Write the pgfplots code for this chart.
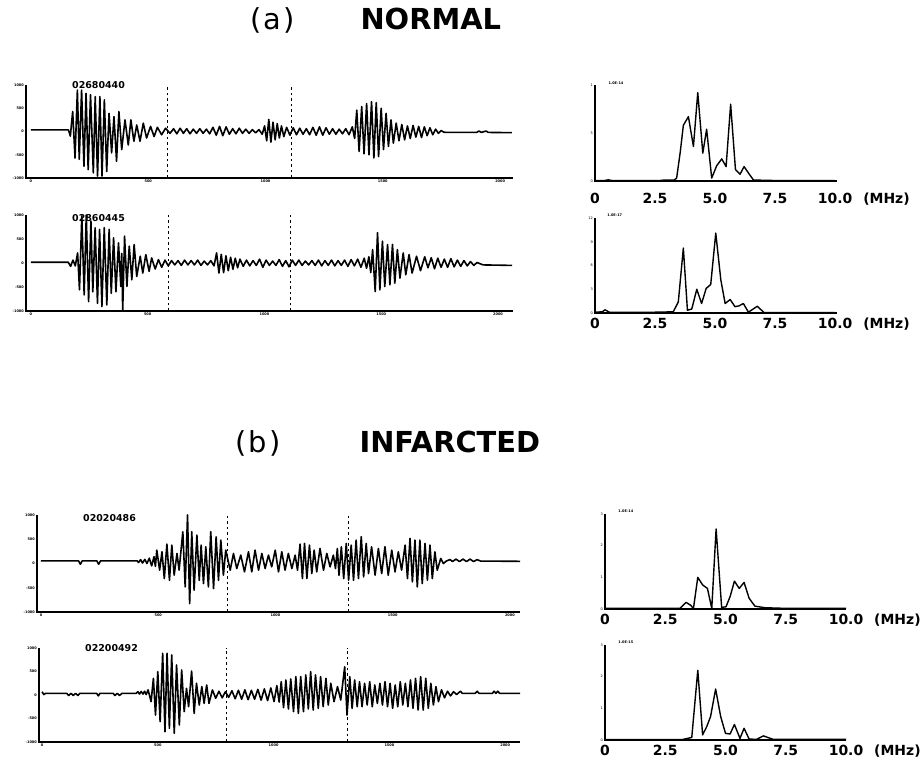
\documentclass[border=0pt]{standalone}
\usepackage{pgfplots}
\pgfplotsset{compat=1.18}
\usepackage{fontspec}
\setmainfont{DejaVu Sans}
\begin{document}
\begin{tikzpicture}
\useasboundingbox (0,0) rectangle (921bp,764bp);
\pgfplotsset{
  base/.style={scale only axis, axis lines=left, axis line style={-, line width=1.2bp},
    tick style={black, line width=0.7bp}, major tick length=2bp, clip=false, anchor=south west},
  wave/.style={base, ymin=-1000, ymax=1000, ytick={-1000,-500,0,500,1000},
    yticklabels={-1000,-500,0,500,1000}, xtick={0,500,1000,1500,2000},
    xticklabels={0,500,1000,1500,2000},
    tick label style={font=\fontsize{3.5}{4}\selectfont\bfseries, inner sep=1bp}},
  wl/.style={black, line width=1.6bp, line join=round},
  dl/.style={black, line width=1bp, dash pattern=on 2.5bp off 3bp},
  spec/.style={base, xmin=0, ymin=0, xtick={0,2.5,5,7.5,10},
    xticklabels={0,2.5,5.0,7.5,{10.0\rlap{\hspace{11bp}(MHz)}}},
    xticklabel style={font=\fontsize{14}{14}\selectfont\bfseries, anchor=north, inner sep=0pt, yshift=-4bp},
    major x tick style={draw=none},
    yticklabel style={font=\fontsize{3.5}{4}\selectfont, inner sep=1bp}},
  sl/.style={black, line width=1.4bp, line join=round}
}
% titles
\node[anchor=base east, font=\fontsize{29}{29}\selectfont] at (298bp,734bp) {(\kern2bp a\kern2bp)};
\node[anchor=base west, font=\fontsize{29}{29}\selectfont\bfseries] at (357bp,734bp) {NORMAL};
\node[anchor=base east, font=\fontsize{29}{29}\selectfont] at (284bp,311bp) {(\kern2bp b\kern2bp)};
\node[anchor=base west, font=\fontsize{29}{29}\selectfont\bfseries] at (356bp,311bp) {INFARCTED};
% record labels
\node[anchor=west, inner sep=0pt, font=\fontsize{9.5}{10}\selectfont\bfseries] at (72bp,679bp) {02680440};
\node[anchor=west, inner sep=0pt, font=\fontsize{9.5}{10}\selectfont\bfseries] at (72bp,546bp) {02860445};
\node[anchor=west, inner sep=0pt, font=\fontsize{9.5}{10}\selectfont\bfseries] at (83bp,246bp) {02020486};
\node[anchor=west, inner sep=0pt, font=\fontsize{9.5}{10}\selectfont\bfseries] at (85bp,116bp) {02200492};

% ---------------- A1
\begin{axis}[wave, at={(26bp,586bp)}, width=487bp, height=93bp, xmin=-21, xmax=2055]
\addplot[wl] coordinates {(0,35) (160,35) (168,-100) (178,430) (188,-570) (198,890) (206,-600) (216,890) (226,-750) (235,820) (244,-820) (254,790) (266,-890) (274,750) (284,-960) (294,750) (303,-960) (313,680) (323,-860) (333,390) (344,-460) (354,320) (365,-640) (375,430) (387,-390) (401,250) (415,-290) (426,250) (439,-210) (451,140) (465,-210) (479,180) (493,-140) (510,110) (525,-110) (539,90) (557,-70) (574,70) (593,-40) (608,60) (622,-50) (636,70) (650,-40) (664,60) (678,-50) (692,50) (706,-40) (720,60) (734,-40) (748,50) (762,-50) (776,90) (790,-80) (804,110) (818,-90) (832,100) (846,-60) (860,60) (874,-50) (888,70) (902,-40) (916,50) (930,-40) (944,40) (958,-30) (972,40) (986,-60) (996,120) (1005,-200) (1014,260) (1023,-230) (1032,200) (1041,-180) (1050,170) (1059,-140) (1068,120) (1078,-110) (1090,90) (1104,-80) (1118,80) (1132,-70) (1146,70) (1160,-60) (1174,60) (1188,-70) (1202,90) (1216,-80) (1230,100) (1244,-80) (1258,80) (1272,-60) (1286,60) (1300,-60) (1314,50) (1328,-50) (1342,60) (1356,-70) (1370,100) (1380,-150) (1389,460) (1399,-430) (1410,535) (1420,-480) (1431,600) (1441,-500) (1452,640) (1462,-570) (1472,620) (1482,-540) (1493,500) (1503,-390) (1514,390) (1524,-320) (1535,250) (1545,-250) (1557,180) (1569,-200) (1581,150) (1593,-180) (1605,120) (1617,-150) (1629,130) (1641,-120) (1653,110) (1665,-130) (1677,100) (1689,-90) (1701,80) (1713,-70) (1725,50) (1737,-40) (1749,20) (1760,-15) (1775,-20) (1900,-20) (1910,10) (1920,-20) (1940,10) (1950,-20) (2050,-25)};
\addplot[dl] coordinates {(584,-1000) (584,1000)};
\addplot[dl] coordinates {(1109,-1000) (1109,1000)};
\end{axis}

% ---------------- A2
\begin{axis}[wave, at={(26bp,453bp)}, width=487bp, height=96bp, xmin=-21, xmax=2064]
\addplot[wl] coordinates {(0,15) (160,15) (170,-70) (180,60) (190,-60) (200,210) (208,-560) (218,980) (228,-665) (237,1000) (247,-805) (257,875) (265,-600) (275,735) (285,-840) (294,700) (304,-910) (314,735) (325,-875) (335,700) (344,-630) (354,525) (364,-600) (375,420) (385,-490) (389,200) (393,-1000) (401,560) (411,-490) (421,350) (432,-350) (442,385) (453,-280) (468,140) (479,-210) (492,175) (506,-175) (517,105) (532,-125) (546,70) (560,-90) (574,60) (588,-60) (602,50) (616,-40) (630,50) (644,-50) (658,60) (672,-40) (686,50) (700,-40) (714,60) (728,-50) (742,40) (756,-40) (770,50) (784,-60) (795,210) (805,-210) (815,180) (825,-200) (835,150) (845,-160) (855,120) (865,-130) (875,100) (885,-100) (895,80) (909,-70) (923,60) (937,-60) (951,50) (965,-50) (979,80) (993,-90) (1007,60) (1021,-50) (1035,40) (1049,-50) (1063,70) (1077,-70) (1091,50) (1105,-80) (1119,60) (1133,-50) (1147,60) (1161,-50) (1175,40) (1189,-40) (1203,50) (1217,-50) (1231,60) (1245,-60) (1259,50) (1273,-50) (1287,60) (1301,-60) (1315,50) (1329,-50) (1343,60) (1357,-70) (1371,70) (1385,-60) (1399,80) (1413,-90) (1427,100) (1437,-110) (1447,130) (1455,-200) (1463,280) (1474,-595) (1484,630) (1494,-560) (1505,455) (1515,-490) (1527,385) (1537,-455) (1548,385) (1558,-420) (1569,280) (1580,-315) (1594,210) (1605,-245) (1619,175) (1632,-210) (1651,140) (1668,-160) (1686,130) (1700,-100) (1714,110) (1728,-120) (1742,100) (1756,-90) (1770,80) (1784,-90) (1798,90) (1812,-80) (1826,60) (1840,-70) (1854,50) (1868,-60) (1882,30) (1896,-50) (1910,10) (1936,-40) (2060,-50)};
\addplot[dl] coordinates {(591,-1000) (591,1000)};
\addplot[dl] coordinates {(1113,-1000) (1113,1000)};
\end{axis}

% ---------------- B1
\begin{axis}[wave, at={(37bp,152bp)}, width=483bp, height=97bp, xmin=-17, xmax=2043]
\addplot[wl] coordinates {(0,55) (160,55) (168,-15) (176,55) (238,55) (246,-15) (254,55) (410,55) (416,20) (425,80) (433,10) (443,85) (452,0) (462,110) (472,-50) (482,140) (488,-60) (494,276) (506,-138) (516,241) (526,-310) (537,400) (548,-345) (558,380) (568,-241) (580,207) (589,-138) (605,655) (615,-483) (625,1000) (634,-828) (643,655) (653,-552) (665,587) (675,-345) (683,380) (693,-414) (703,345) (714,-483) (724,655) (736,-518) (747,552) (757,-345) (767,483) (778,-241) (788,276) (807,-138) (821,207) (835,-104) (852,173) (868,-173) (885,241) (899,-173) (913,276) (928,-138) (942,207) (956,-104) (970,173) (984,-69) (999,276) (1013,-173) (1027,241) (1041,-138) (1055,207) (1070,-104) (1084,173) (1094,-138) (1105,400) (1115,-310) (1124,414) (1134,-310) (1145,380) (1155,-207) (1165,276) (1176,-173) (1190,310) (1205,-138) (1219,207) (1233,-69) (1247,173) (1256,-104) (1264,310) (1271,-241) (1281,345) (1291,-310) (1302,414) (1312,-345) (1323,380) (1333,-345) (1344,483) (1354,-310) (1366,552) (1376,-276) (1387,414) (1397,-207) (1410,345) (1425,-241) (1439,310) (1453,-207) (1467,345) (1481,-241) (1496,276) (1510,-173) (1524,241) (1538,-138) (1553,380) (1563,-310) (1574,518) (1584,-380) (1595,483) (1605,-483) (1616,483) (1626,-414) (1638,414) (1648,-345) (1659,380) (1669,-310) (1680,241) (1690,-138) (1705,104) (1716,0) (1730,55) (1745,80) (1755,40) (1770,90) (1785,40) (1800,90) (1815,40) (1830,90) (1845,40) (1860,80) (1875,50) (2043,45)};
\addplot[dl] coordinates {(797,-1000) (797,1000)};
\addplot[dl] coordinates {(1313,-1000) (1313,1000)};
\end{axis}

% ---------------- B2
\begin{axis}[wave, at={(39bp,22bp)}, width=481bp, height=94bp, xmin=-13, xmax=2064]
\addplot[wl] coordinates {(0,70) (8,10) (15,35) (107,35) (115,-10) (125,35) (135,-10) (145,35) (155,-10) (164,35) (236,35) (243,-20) (250,35) (307,35) (315,-10) (325,35) (335,-10) (345,35) (407,35) (414,70) (421,20) (428,75) (436,20) (443,80) (450,10) (458,110) (471,-142) (481,355) (490,-426) (500,497) (510,-568) (521,888) (531,-781) (540,888) (550,-710) (560,852) (571,-817) (581,639) (593,-639) (603,533) (614,-355) (624,142) (633,-249) (646,511) (657,-391) (667,249) (679,-213) (690,178) (700,-178) (711,213) (721,-178) (736,107) (750,-70) (764,80) (778,-60) (792,70) (806,-50) (820,90) (834,-80) (848,100) (862,-90) (876,110) (890,-100) (904,100) (918,-90) (932,120) (946,-110) (960,130) (974,-120) (988,150) (1002,-140) (1014,200) (1024,-150) (1033,284) (1043,-270) (1053,320) (1064,-298) (1074,341) (1086,-355) (1096,391) (1107,-391) (1117,391) (1129,-355) (1139,426) (1150,-298) (1160,497) (1171,-320) (1181,426) (1193,-284) (1203,391) (1214,-249) (1226,355) (1236,-213) (1247,249) (1261,-142) (1276,178) (1290,-107) (1307,600) (1317,-426) (1329,391) (1339,-284) (1350,320) (1361,-249) (1371,284) (1382,-249) (1393,249) (1404,-213) (1415,284) (1426,-249) (1437,213) (1448,-178) (1459,249) (1470,-213) (1481,284) (1492,-249) (1503,249) (1514,-284) (1525,213) (1536,-249) (1547,284) (1558,-213) (1569,249) (1580,-249) (1591,320) (1602,-284) (1613,355) (1624,-320) (1635,391) (1646,-320) (1657,355) (1668,-284) (1679,249) (1690,-213) (1701,178) (1712,-142) (1725,110) (1738,-60) (1751,80) (1764,-20) (1777,70) (1790,10) (1807,80) (1815,35) (1870,35) (1879,80) (1887,35) (1945,35) (1952,80) (1960,35) (1968,80) (1976,35) (2064,35)};
\addplot[dl] coordinates {(798,-1000) (798,1000)};
\addplot[dl] coordinates {(1318,-1000) (1318,1000)};
\end{axis}

% ---------------- S1
\begin{axis}[spec, at={(595bp,583bp)}, width=242bp, height=96bp, xmax=10.08, ymax=1, ytick={0,0.5,1}, yticklabels={0,5,1}, xticklabel style={yshift=-7bp}]
\addplot[sl] coordinates {(0,0.005) (0.4,0.005) (0.55,0.012) (0.7,0.005) (2.7,0.005) (2.9,0.01) (3.3,0.01) (3.4,0.03) (3.55,0.3) (3.68,0.58) (3.89,0.67) (4.1,0.36) (4.28,0.92) (4.49,0.29) (4.65,0.54) (4.86,0.03) (5.07,0.16) (5.28,0.23) (5.46,0.15) (5.65,0.80) (5.85,0.12) (6.04,0.07) (6.21,0.15) (6.4,0.08) (6.6,0.01) (7.5,0.005) (9.2,0.005) (10,0.003)};
\node[anchor=west, inner sep=0pt, font=\fontsize{3.5}{4}\selectfont\bfseries] at (rel axis cs:0.055,1.02) {1.0E-14};
\end{axis}

% ---------------- S2
\begin{axis}[spec, at={(595bp,451bp)}, width=242bp, height=95bp, xmax=10.08, ymax=12, ytick={0,3,6,9,12}, yticklabels={0,3,6,9,12}]
\addplot[sl] coordinates {(0,0.1) (0.3,0.15) (0.42,0.4) (0.6,0.1) (2.5,0.1) (3.26,0.15) (3.47,1.4) (3.68,8.2) (3.85,0.35) (4.03,0.5) (4.24,3.0) (4.44,1.2) (4.63,3.1) (4.82,3.6) (5.03,10.1) (5.24,4.2) (5.42,1.2) (5.63,1.7) (5.83,0.8) (6.0,0.9) (6.18,1.2) (6.39,0.1) (6.76,0.85) (7.04,0.05) (10,0.05)};
\node[anchor=west, inner sep=0pt, font=\fontsize{3.5}{4}\selectfont\bfseries] at (rel axis cs:0.05,1.03) {1.0E-17};
\end{axis}

% ---------------- S3
\begin{axis}[spec, at={(605bp,155bp)}, width=241bp, height=95bp, xmax=10, ymax=3, ytick={0,1,2,3}, yticklabels={0,1,2,3}]
\addplot[sl] coordinates {(0,0.02) (3.11,0.02) (3.36,0.21) (3.55,0.12) (3.67,0.02) (3.85,1.0) (4.05,0.76) (4.25,0.65) (4.43,0.02) (4.61,2.53) (4.84,0.05) (5.02,0.07) (5.19,0.39) (5.37,0.88) (5.57,0.65) (5.77,0.84) (5.98,0.34) (6.22,0.09) (6.64,0.04) (7.5,0.02) (10,0.02)};
\node[anchor=west, inner sep=0pt, font=\fontsize{3.5}{4}\selectfont\bfseries] at (rel axis cs:0.055,1.03) {1.0E-14};
\end{axis}

% ---------------- S4
\begin{axis}[spec, at={(605bp,24bp)}, width=241bp, height=95bp, xmax=10, ymax=3, ytick={0,1,2,3}, yticklabels={0,1,2,3}]
\addplot[sl] coordinates {(0,0.01) (3.18,0.01) (3.6,0.08) (3.85,2.2) (4.05,0.16) (4.22,0.42) (4.38,0.74) (4.59,1.61) (4.80,0.74) (5.0,0.21) (5.19,0.19) (5.37,0.49) (5.6,0.05) (5.77,0.37) (5.98,0.03) (6.29,0.02) (6.57,0.13) (6.98,0.02) (10,0.02)};
\node[anchor=west, inner sep=0pt, font=\fontsize{3.5}{4}\selectfont\bfseries] at (rel axis cs:0.055,1.03) {1.0E-15};
\end{axis}
\end{tikzpicture}
\end{document}
